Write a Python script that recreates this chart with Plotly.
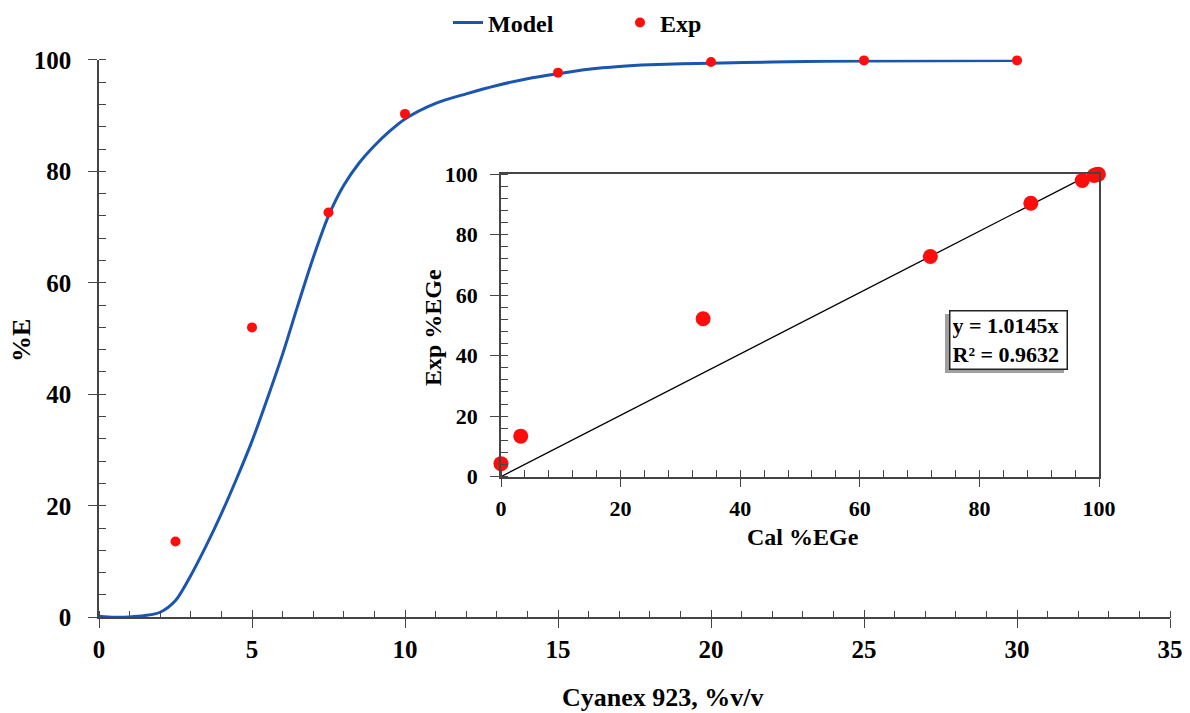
import plotly.graph_objects as go

# ---- data ----
model_x = [0, 0.5, 1.0, 1.5, 2.0, 2.5, 3.0, 3.5, 4.0, 4.5, 5.0, 5.5, 6.0, 6.5, 7.0,
           7.5, 8.0, 8.5, 9.0, 9.5, 10, 11, 12, 13, 14, 15, 16, 17, 18, 20, 22,
           25, 30]
model_y = [0.2, 0.0, 0.05, 0.3, 0.9, 3.0, 7.5, 12.8, 18.6, 24.9, 31.6, 39.2, 47.2,
           56.0, 64.5, 72.0, 77.5, 81.5, 84.6, 87.2, 89.4, 92.2, 93.9, 95.4, 96.6,
           97.5, 98.3, 98.8, 99.1, 99.4, 99.6, 99.8, 99.9]

exp_x = [2.5, 5, 7.5, 10, 15, 20, 25, 30]
exp_y = [13.6, 52.0, 72.6, 90.3, 97.7, 99.6, 99.9, 99.9]

# inset: calculated vs experimental %EGe
cal_pct = [0, 3.3, 33.8, 71.8, 88.6, 97.2, 99.2, 99.6, 99.9]
exp_pct = [4.3, 13.4, 52.2, 72.8, 90.4, 97.9, 99.6, 99.9, 100.0]
trend_slope = 1.0145
trend_r2 = 0.9632
trend_x = [0, 98.6]
trend_y = [trend_slope * v for v in trend_x]

FONT = "Liberation Serif"
AX = "#454545"
BLUE = "#1a56b0"
RED = "#ff0d0d"

fig = go.Figure()
fig.add_trace(go.Scatter(x=model_x, y=model_y, mode="lines", name="Model",
                         line=dict(color=BLUE, width=3, shape="spline", smoothing=0.8),
                         xaxis="x", yaxis="y"))
fig.add_trace(go.Scatter(x=exp_x, y=exp_y, mode="markers", name="Exp",
                         marker=dict(color=RED, size=10), cliponaxis=False,
                         xaxis="x", yaxis="y"))
# inset
fig.add_trace(go.Scatter(x=trend_x, y=trend_y, mode="lines", showlegend=False,
                         line=dict(color="black", width=1.3), xaxis="x2", yaxis="y2"))
fig.add_trace(go.Scatter(x=cal_pct, y=exp_pct, mode="markers", showlegend=False,
                         marker=dict(color=RED, size=15), cliponaxis=False,
                         xaxis="x2", yaxis="y2"))
# dummy traces for overlay axes (inside halves of crossing major ticks)
fig.add_trace(go.Scatter(x=[None], y=[None], showlegend=False, hoverinfo="skip",
                         xaxis="x3", yaxis="y3"))
fig.add_trace(go.Scatter(x=[None], y=[None], showlegend=False, hoverinfo="skip",
                         xaxis="x4", yaxis="y4"))

W, H = 1190, 713
main_xd = [99 / W, 1170 / W]
main_yd = [(H - 617) / H, (H - 58) / H]
ins_xd = [501 / W, 1099 / W]
ins_yd = [(H - 476) / H, (H - 172.7) / H]

def tfont(size):
    return dict(family=FONT, size=size, color="black", weight=700)

def base_axis(domain, rng, dtick, mdtick, size, anchor, mirror=False, standoff=8):
    return dict(domain=domain, range=rng, dtick=dtick, tick0=0, anchor=anchor,
                ticks="outside", ticklen=9, tickwidth=1.4, tickcolor=AX,
                showline=True, linecolor=AX, linewidth=1.5, mirror=mirror,
                minor=dict(dtick=mdtick, tick0=0, ticks="inside", ticklen=7,
                           tickwidth=1.2, tickcolor=AX, showgrid=False),
                showgrid=False, zeroline=False, tickfont=tfont(size),
                ticklabelstandoff=standoff, fixedrange=True, automargin=False)

def overlay_axis(over, anchor, rng, dtick):
    return dict(overlaying=over, anchor=anchor, range=rng, dtick=dtick, tick0=0,
                ticks="inside", ticklen=7, tickwidth=1.4, tickcolor=AX,
                showticklabels=False, showline=False, showgrid=False,
                zeroline=False, fixedrange=True, automargin=False)

fig.update_layout(
    template="none",
    width=W, height=H, autosize=False,
    margin=dict(l=0, r=0, t=0, b=0, pad=0),
    paper_bgcolor="white", plot_bgcolor="rgba(0,0,0,0)",
    font=dict(family=FONT, color="black"),
    xaxis=base_axis(main_xd, [0, 35], 5, 1, 25, "y", standoff=0),
    yaxis=base_axis(main_yd, [0, 100], 20, 4, 25, "x", standoff=12),
    xaxis2=base_axis(ins_xd, [0, 100], 20, 4, 22, "y2", mirror=True, standoff=2),
    yaxis2=base_axis(ins_yd, [0, 100], 20, 4, 22, "x2", mirror=True, standoff=8),
    xaxis3=overlay_axis("x", "y", [0, 35], 5),
    yaxis3=overlay_axis("y", "x", [0, 100], 20),
    xaxis4=overlay_axis("x2", "y2", [0, 100], 20),
    yaxis4=overlay_axis("y2", "x2", [0, 100], 20),
    legend=dict(orientation="h", x=448 / W, y=(H - 21) / H, xanchor="left",
                yanchor="middle", font=dict(family=FONT, size=24, weight=700),
                bgcolor="rgba(0,0,0,0)", itemwidth=30, borderwidth=0,
                entrywidth=127, entrywidthmode="pixels"),
    showlegend=True,
)

ann = [
    dict(text="Cyanex 923, %v/v", x=663 / W, y=(H - 697) / H, xref="paper", yref="paper",
         showarrow=False, xanchor="center", yanchor="middle",
         font=dict(family=FONT, size=26, weight=700)),
    dict(text="%E", x=21 / W, y=(H - 340) / H, xref="paper", yref="paper",
         showarrow=False, textangle=-90, xanchor="center", yanchor="middle",
         font=dict(family=FONT, size=26, weight=700)),
    dict(text="Exp %EGe", x=433 / W, y=(H - 327) / H, xref="paper", yref="paper",
         showarrow=False, textangle=-90, xanchor="center", yanchor="middle",
         font=dict(family=FONT, size=24, weight=700)),
    dict(text="Cal %EGe", x=803 / W, y=(H - 537) / H, xref="paper", yref="paper",
         showarrow=False, xanchor="center", yanchor="middle",
         font=dict(family=FONT, size=24, weight=700)),
    dict(text=f"y = {trend_slope}x<br>R² = {trend_r2}",
         x=1008.5 / W, y=(H - 338.5) / H, xref="paper", yref="paper",
         showarrow=False, xanchor="center", yanchor="middle", align="left",
         width=112, height=53, borderpad=2,
         bgcolor="white", bordercolor="#222222", borderwidth=1.5,
         font=dict(family=FONT, size=22, weight=700)),
]
fig.update_layout(annotations=ann)

# drop shadow behind the regression box
fig.add_shape(type="rect", xref="paper", yref="paper",
              x0=(949 - 4) / W, x1=(1068 - 4) / W,
              y0=(H - 368 - 4) / H, y1=(H - 309 - 4) / H,
              fillcolor="rgba(80,80,80,0.55)", line=dict(width=0), layer="above")

fig.write_html("out.html", config={"displayModeBar": False},
               post_script="document.body.style.margin='0px';"
                           "document.documentElement.style.overflow='hidden';")
